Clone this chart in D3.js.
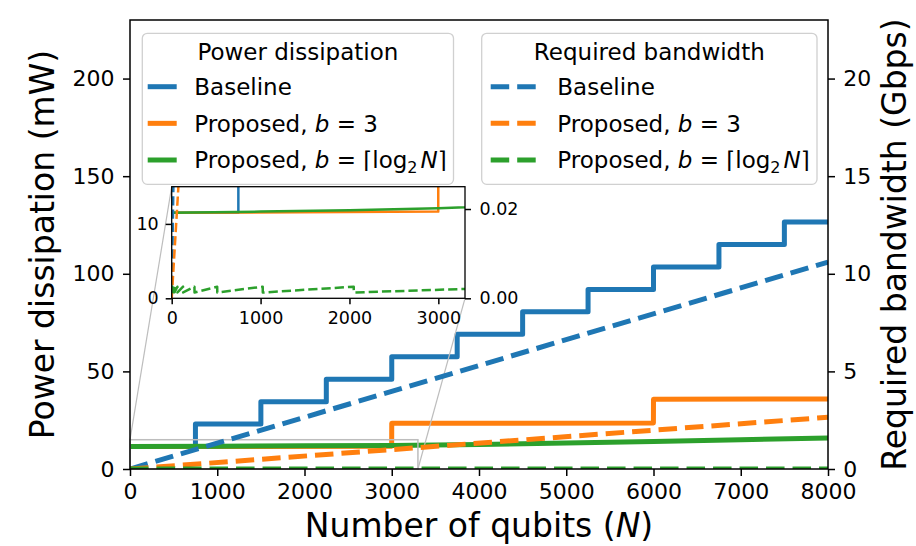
<!DOCTYPE html>
<html><head><meta charset="utf-8">
<script src="https://cdn.jsdelivr.net/npm/d3@7"></script>
<style>
body{margin:0;background:#fff}
text{font-family:"DejaVu Sans",sans-serif;fill:#000}
</style>
</head><body>
<svg id="c" width="916" height="546" xmlns="http://www.w3.org/2000/svg"></svg>
<script>
// ---- tick labels ----
const xTicks = [0,1000,2000,3000,4000,5000,6000,7000,8000];
const powerTicks = [0,50,100,150,200];
const bwTicks = [0,5,10,15,20];
const insetXTicks = [0,1000,2000,3000];
const insetPowerTicks = [0,10];
const insetBwTicks = [0,0.02];

// ---- power dissipation (mW) ----
const baselinePowerN = [0,750,1500,2250,3000,3750,4500,5250,6000,6750,7500,8000];
const baselinePower  = [11.5,23,34.5,46,57.5,69,80.5,92,103.5,115,126.5,126.5];
const prop3PowerN = [0,2999,3000,5999,6000,8000];
const prop3Power  = [11.5,11.65,23.4,23.6,35.7,35.9];
const propLogPowerN = [0,1000,2000,3000,4000,5000,6000,7000,8000];
const propLogPower  = [11.5,11.65,11.85,12.1,12.6,13.3,14.1,15.0,15.9];

// ---- required bandwidth (Gbps) ----
const baselineBwN = [0,8000];
const baselineBw  = [0,10.6];
const prop3BwN = [0,8000];
const prop3Bw  = [0,2.65];
const propLogBwN = [1,2,3,4,5,8,9,16,17,32,33,64,65,128,129,256,257,512,513,1024,1025,2048,2049,4096,4097,8000];
const propLogBw  = [0.0026,0.0026,0.00195,0.0026,0.00163,0.0026,0.00146,0.0026,0.00138,0.0026,0.00134,0.0026,0.00132,0.0026,0.00131,0.0026,0.0013,0.0026,0.0013,0.0026,0.0013,0.0026,0.0013,0.0026,0.0013,0.00254];

const legendPowerTitle = "Power dissipation";
const legendBwTitle = "Required bandwidth";

const C = {blue:"#1f77b4", orange:"#ff7f0e", green:"#2ca02c"};
const FONT = '"DejaVu Sans", sans-serif';

const svg = d3.select("#c");
const M = {l:130, r:828, t:20, b:469};
const I = {l:171.7, r:465, t:186.7, b:298.3};

const x  = d3.scaleLinear().domain([0,8000]).range([M.l,M.r]);
const yP = d3.scaleLinear().domain([0,230]).range([M.b,M.t]);
const yB = d3.scaleLinear().domain([0,23]).range([M.b,M.t]);
const xi  = d3.scaleLinear().domain([0,3300]).range([I.l,I.r]);
const yPi = d3.scaleLinear().domain([0,15]).range([I.b,I.t]);
const yBi = d3.scaleLinear().domain([0,0.025]).range([I.b,I.t]);

const defs = svg.append("defs");
defs.append("clipPath").attr("id","clipMain").append("rect")
  .attr("x",M.l).attr("y",M.t).attr("width",M.r-M.l).attr("height",M.b-M.t);
defs.append("clipPath").attr("id","clipInset").append("rect")
  .attr("x",I.l).attr("y",I.t).attr("width",I.r-I.l).attr("height",I.b-I.t);

const zip = (ns,vs) => ns.map((n,i)=>[n,vs[i]]);
const powerSeries = [
  {n:baselinePowerN, v:baselinePower, c:C.blue, step:true},
  {n:prop3PowerN, v:prop3Power, c:C.orange},
  {n:propLogPowerN, v:propLogPower, c:C.green}
];
const bwSeries = [
  {n:baselineBwN, v:baselineBw, c:C.blue},
  {n:prop3BwN, v:prop3Bw, c:C.orange},
  {n:propLogBwN, v:propLogBw, c:C.green}
];

function drawLines(g, series, xs, ys, lw, dash){
  series.forEach(s=>{
    const line = d3.line().x(d=>xs(d[0])).y(d=>ys(d[1]))
      .curve(s.step ? d3.curveStepAfter : d3.curveLinear);
    g.append("path").attr("d", line(zip(s.n,s.v)))
      .attr("fill","none").attr("stroke",s.c).attr("stroke-width",lw)
      .attr("stroke-linejoin","round")
      .attr("stroke-linecap", dash ? "butt" : "square")
      .attr("stroke-dasharray", dash || null);
  });
}

// ---- main axes: power lines ----
const gMainP = svg.append("g").attr("clip-path","url(#clipMain)");
drawLines(gMainP, powerSeries, x, yP, 5, null);

// indicator rectangle & connectors
svg.append("rect")
  .attr("x", x(0)).attr("y", yP(15))
  .attr("width", x(3300)-x(0)).attr("height", yP(0)-yP(15))
  .attr("fill","none").attr("stroke","#bdbdbd").attr("stroke-width",1.5);
svg.append("line").attr("x1",x(0)).attr("y1",yP(15)).attr("x2",I.l).attr("y2",I.t)
  .attr("stroke","#bdbdbd").attr("stroke-width",1.2);
svg.append("line").attr("x1",x(3300)).attr("y1",yP(0)).attr("x2",I.r).attr("y2",I.b)
  .attr("stroke","#bdbdbd").attr("stroke-width",1.2);

// ---- twin axes: bandwidth lines ----
const gMainB = svg.append("g").attr("clip-path","url(#clipMain)");
drawLines(gMainB, bwSeries, x, yB, 5, "18.5,8");

// ---- spines & axes ----
function styleAxis(g, size){
  g.attr("font-family", FONT).attr("font-size", size);
  g.select(".domain").remove();
  g.selectAll(".tick line").attr("stroke","#000").attr("stroke-width",1.5);
  g.selectAll(".tick text").attr("fill","#000");
}
svg.append("rect").attr("x",M.l).attr("y",M.t).attr("width",M.r-M.l).attr("height",M.b-M.t)
  .attr("fill","none").attr("stroke","#000").attr("stroke-width",1.5);

styleAxis(svg.append("g").attr("transform",`translate(0,${M.b})`)
  .call(d3.axisBottom(x).tickValues(xTicks).tickSize(7).tickPadding(7).tickFormat(d3.format("d"))), 22);
styleAxis(svg.append("g").attr("transform",`translate(${M.l},0)`)
  .call(d3.axisLeft(yP).tickValues(powerTicks).tickSize(7).tickPadding(8.5).tickFormat(d3.format("d"))), 22);
styleAxis(svg.append("g").attr("transform",`translate(${M.r},0)`)
  .call(d3.axisRight(yB).tickValues(bwTicks).tickSize(7).tickPadding(8.3).tickFormat(d3.format("d"))), 22);

// axis titles
const xl = svg.append("text").attr("x",(M.l+M.r)/2).attr("y",537)
  .attr("text-anchor","middle").attr("font-size",33);
xl.append("tspan").text("Number of qubits (");
xl.append("tspan").attr("font-style","italic").text("N");
xl.append("tspan").text(")");
svg.append("text").attr("transform",`translate(54,${(M.t+M.b)/2}) rotate(-90)`)
  .attr("text-anchor","middle").attr("font-size",33).text("Power dissipation (mW)");
svg.append("text").attr("transform",`translate(906,${(M.t+M.b)/2}) rotate(-90)`)
  .attr("text-anchor","middle").attr("font-size",33).text("Required bandwidth (Gbps)");

// ---- legends ----
const entryLabels = [
  [{t:"Baseline"}],
  [{t:"Proposed, "},{t:"b",i:true},{t:" = 3"}],
  [{t:"Proposed, "},{t:"b",i:true},{t:" = \u2308log"},{t:"2",sub:true},{t:"N",i:true,up:true,dx:3},{t:"\u2309"}]
];
const legendColors = [C.blue, C.orange, C.green];
function drawLegend(box, title, hx0, hx1, tx, dash){
  const g = svg.append("g");
  g.append("rect").attr("x",box.x).attr("y",box.y).attr("width",box.w).attr("height",box.h)
    .attr("rx",5).attr("fill","#fff").attr("fill-opacity",0.85)
    .attr("stroke","#d0d0d0").attr("stroke-width",1.3);
  g.append("text").attr("x",box.x+box.w/2).attr("y",60).attr("text-anchor","middle")
    .attr("font-size",23).text(title);
  entryLabels.forEach((segs,k)=>{
    const yy = 86.7 + k*36.65;
    g.append("line").attr("x1",hx0).attr("x2",hx1).attr("y1",yy).attr("y2",yy)
      .attr("stroke",legendColors[k]).attr("stroke-width",5)
      .attr("stroke-dasharray",dash||null);
    const t = g.append("text").attr("x",tx).attr("y",yy+8.3).attr("font-size",23);
    segs.forEach(s=>{
      const ts = t.append("tspan").text(s.t);
      if (s.i) ts.attr("font-style","italic");
      if (s.sub) ts.attr("font-size",16).attr("dy",5);
      if (s.up) ts.attr("dy",-5);
      if (s.dx) ts.attr("dx",s.dx);
    });
  });
}
drawLegend({x:142.3,y:33.3,w:311.2,h:151}, legendPowerTitle, 147.7, 176.7, 194.3, null);
drawLegend({x:481.7,y:33.3,w:335.3,h:151}, legendBwTitle, 490.7, 537.7, 557.3, "18.5,8");

// ---- inset ----
svg.append("rect").attr("x",I.l).attr("y",I.t).attr("width",I.r-I.l).attr("height",I.b-I.t)
  .attr("fill","#fff");
const gInP = svg.append("g").attr("clip-path","url(#clipInset)");
drawLines(gInP, powerSeries, xi, yPi, 2.5, null);
const gInB = svg.append("g").attr("clip-path","url(#clipInset)");
drawLines(gInB, bwSeries, xi, yBi, 2.5, "9.25,4");
svg.append("rect").attr("x",I.l).attr("y",I.t).attr("width",I.r-I.l).attr("height",I.b-I.t)
  .attr("fill","none").attr("stroke","#000").attr("stroke-width",1.3);
styleAxis(svg.append("g").attr("transform",`translate(0,${I.b})`)
  .call(d3.axisBottom(xi).tickValues(insetXTicks).tickSize(6).tickPadding(7).tickFormat(d3.format("d"))), 17.5);
styleAxis(svg.append("g").attr("transform",`translate(${I.l},0)`)
  .call(d3.axisLeft(yPi).tickValues(insetPowerTicks).tickSize(6).tickPadding(7).tickFormat(d3.format("d"))), 17.5);
styleAxis(svg.append("g").attr("transform",`translate(${I.r},0)`)
  .call(d3.axisRight(yBi).tickValues(insetBwTicks).tickSize(6).tickPadding(8.5).tickFormat(d3.format(".2f"))), 17.5);
</script>
</body></html>
